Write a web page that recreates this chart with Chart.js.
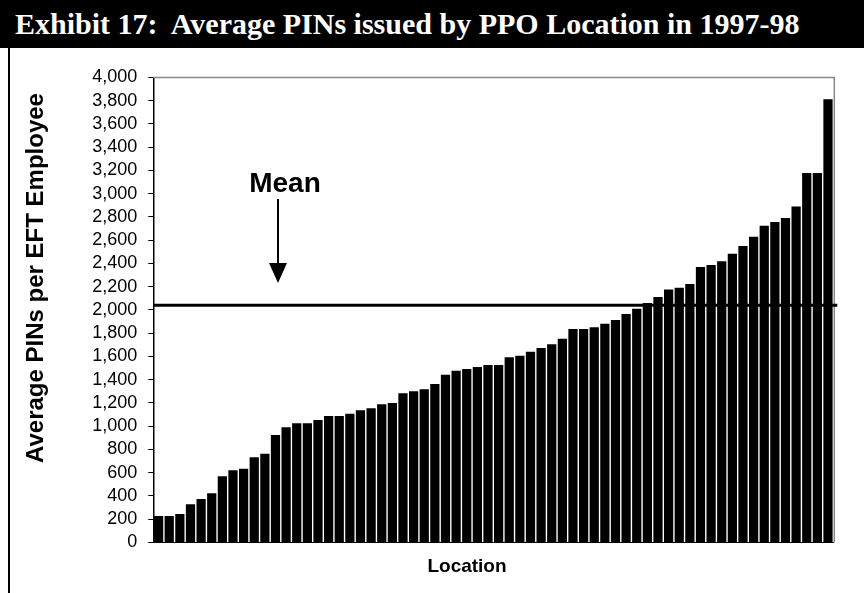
<!DOCTYPE html>
<html>
<head>
<meta charset="utf-8">
<script src="https://cdn.jsdelivr.net/npm/chart.js@4.4.1/dist/chart.umd.min.js"></script>
<style>
  body { margin: 0; background: #fff; }
  #wrap { position: relative; width: 864px; height: 593px; overflow: hidden; }
  #title {
    position: absolute; left: 0; top: 0; width: 864px; height: 48px;
    background: #000; color: #fff; box-sizing: border-box; padding-left: 15px;
    font: bold 30px "Liberation Serif", "Times New Roman", serif; line-height: 48px;
    white-space: pre;
  }
  #frame { position: absolute; left: 8px; top: 48px; width: 2px; height: 545px; background: #000; }
  canvas { position: absolute; left: 0; top: 0; }
</style>
</head>
<body>
<div id="wrap">
  <canvas id="pinChart" width="864" height="593"></canvas>
  <div id="title">Exhibit 17:  Average PINs issued by PPO Location in 1997-98</div>
  <div id="frame"></div>
</div>
<script>
// average PINs per EFT employee, one bar per PPO location (sorted)
const pinsPerEmployee = [
  228, 228, 245, 328, 374, 423, 569, 621, 635, 733,
  764, 925, 991, 1025, 1025, 1054, 1088, 1088, 1108, 1137,
  1154, 1189, 1200, 1283, 1300, 1317, 1363, 1443, 1478, 1492,
  1509, 1527, 1527, 1593, 1607, 1641, 1673, 1705, 1753, 1836,
  1836, 1851, 1882, 1914, 1965, 2011, 2060, 2112, 2175, 2192,
  2224, 2370, 2387, 2419, 2484, 2550, 2630, 2725, 2757, 2791,
  2889, 3178, 3178, 3813
];
const locations = pinsPerEmployee.map(() => '');
const meanValue = 2040;
const yTicks = [0, 200, 400, 600, 800, 1000, 1200, 1400, 1600, 1800, 2000,
  2200, 2400, 2600, 2800, 3000, 3200, 3400, 3600, 3800, 4000];

const sans = '"Liberation Sans", Arial, sans-serif';

// grey frame on top and right of the plot
const plotFrame = {
  id: 'plotFrame',
  afterDatasetsDraw(chart) {
    const { ctx, chartArea: a } = chart;
    ctx.save();
    ctx.strokeStyle = '#888';
    ctx.lineWidth = 1.5;
    ctx.beginPath();
    ctx.moveTo(a.left, a.top);
    ctx.lineTo(a.right + 1, a.top);
    ctx.lineTo(a.right + 1, a.bottom);
    ctx.stroke();
    ctx.restore();
  }
};

// mean line, "Mean" arrow and axis titles
const meanMarker = {
  id: 'meanMarker',
  afterDatasetsDraw(chart) {
    const { ctx, chartArea: a, scales } = chart;
    const y = scales.y.getPixelForValue(meanValue);
    ctx.save();
    ctx.strokeStyle = '#000';
    ctx.lineWidth = 3;
    ctx.beginPath();
    ctx.moveTo(a.left, y);
    ctx.lineTo(a.right + 4, y);
    ctx.stroke();

    const ax = 278;
    ctx.fillStyle = '#000';
    ctx.font = 'bold 28px ' + sans;
    ctx.textAlign = 'center';
    ctx.textBaseline = 'middle';
    ctx.fillText('Mean', 285, 184);

    ctx.lineWidth = 2;
    ctx.beginPath();
    ctx.moveTo(ax, 199);
    ctx.lineTo(ax, 266);
    ctx.stroke();
    ctx.beginPath();
    ctx.moveTo(ax - 9, 263);
    ctx.lineTo(ax + 9, 263);
    ctx.lineTo(ax, 283);
    ctx.closePath();
    ctx.fill();

    ctx.font = 'bold 19px ' + sans;
    ctx.fillText('Location', 467, 567);

    ctx.translate(36, 278);
    ctx.rotate(-Math.PI / 2);
    ctx.font = 'bold 24px ' + sans;
    ctx.fillText('Average PINs per EFT Employee', 0, 0);
    ctx.restore();
  }
};

const ctx = document.getElementById('pinChart').getContext('2d');
new Chart(ctx, {
  type: 'bar',
  data: {
    labels: locations,
    datasets: [{
      data: pinsPerEmployee,
      backgroundColor: '#000',
      borderWidth: 0,
      categoryPercentage: 1,
      barPercentage: 0.87
    }]
  },
  options: {
    responsive: false,
    animation: false,
    devicePixelRatio: 1,
    layout: { padding: { left: 0, right: 30.7, top: 77.4, bottom: 0 } },
    plugins: { legend: { display: false }, tooltip: { enabled: false } },
    scales: {
      x: {
        ticks: { display: false },
        grid: { display: false },
        border: { color: '#000', width: 1 },
        afterFit(scale) { scale.height = 50.5; }
      },
      y: {
        min: 0,
        max: 4000,
        afterBuildTicks(scale) { scale.ticks = yTicks.map(v => ({ value: v })); },
        ticks: {
          color: '#000',
          padding: 11,
          autoSkip: false,
          font: { family: sans, size: 18 },
          callback: v => v.toLocaleString('en-US')
        },
        grid: { drawOnChartArea: false, drawTicks: true, tickLength: 5, color: '#000' },
        border: { color: '#000', width: 1.5 },
        afterFit(scale) { scale.width = 153.3; }
      }
    }
  },
  plugins: [plotFrame, meanMarker]
});
</script>
</body>
</html>
